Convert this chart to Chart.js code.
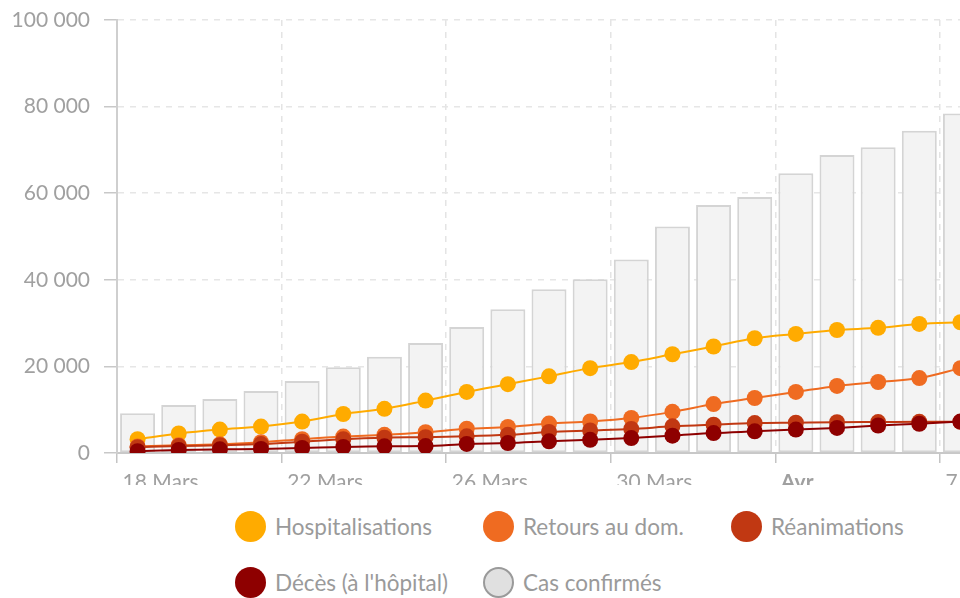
<!DOCTYPE html>
<html lang="fr">
<head>
<meta charset="utf-8">
<script src="https://cdn.jsdelivr.net/npm/chart.js@4"></script>
<style>
  html, body { margin: 0; padding: 0; background: #fff; overflow: hidden; width: 960px; height: 598px; }
  #wrap { position: absolute; left: 0; top: 0; width: 990px; height: 500px; }
  #legend { position: absolute; left: 0; top: 485px; width: 960px; height: 113px; background: #fff;
            font-family: Lato, sans-serif; font-size: 22.5px; color: #9a9a9a; }
  .item { position: absolute; display: flex; align-items: center; height: 32px; white-space: nowrap; }
  .dot { width: 31px; height: 31px; border-radius: 50%; margin-right: 9px; box-sizing: border-box; }
</style>
</head>
<body>
<div id="wrap"><canvas id="chart"></canvas></div>
<div id="legend"></div>
<script>
// ========== DATA ==========
const dates = ['18 Mars', '19 Mars', '20 Mars', '21 Mars', '22 Mars', '23 Mars', '24 Mars',
    '25 Mars', '26 Mars', '27 Mars', '28 Mars', '29 Mars', '30 Mars', '31 Mars',
    '1 Avr.', '2 Avr.', '3 Avr.', '4 Avr.', '5 Avr.', '6 Avr.', '7 Avr.'];
const tickLabels = ['18 Mars', '22 Mars', '26 Mars', '30 Mars', 'Avr.', '7'];
const tickEvery = 4;

const hospitalisations = [3200, 4500, 5400, 6100, 7250, 9000, 10200, 12100, 14100, 15900, 17700,
    19600, 21000, 22800, 24600, 26500, 27500, 28400, 28900, 29800, 30200];
const retours = [1500, 1800, 2000, 2500, 3200, 3800, 4200, 4800, 5600, 6000, 6800,
    7300, 8100, 9500, 11300, 12700, 14100, 15500, 16400, 17300, 19600];
const reanimations = [1350, 1600, 1800, 2050, 2600, 3200, 3550, 3650, 3850, 4200, 4850,
    5200, 5550, 6150, 6550, 6900, 7000, 7100, 7150, 7200, 7200];
const deces = [400, 700, 850, 950, 1150, 1400, 1550, 1600, 2100, 2300, 2700,
    3050, 3450, 4000, 4600, 5000, 5400, 5800, 6350, 6750, 7250];
const casConfirmes = [9200, 11100, 12500, 14300, 16600, 19800, 22200, 25400, 29100, 33200, 37800,
    40100, 44700, 52300, 57300, 59100, 64600, 68800, 70600, 74400, 78400];

const yTicks = { min: 0, max: 100000, step: 20000 };

// ========== LEGEND ==========
const legendItems = [
    { label: 'Hospitalisations', fill: '#ffab00', stroke: null },
    { label: 'Retours au dom.', fill: '#ef6b21', stroke: null },
    { label: 'Réanimations', fill: '#c13812', stroke: null },
    { label: "Décès (à l'hôpital)", fill: '#8e0000', stroke: null },
    { label: 'Cas confirmés', fill: '#e0e0e0', stroke: '#9a9a9a' }
];

const legend = document.getElementById('legend');
legendItems.forEach((item, i) => {
    const col = i % 3;
    const row = Math.floor(i / 3);
    const el = document.createElement('div');
    el.className = 'item';
    el.style.left = (235 + col * 248) + 'px';
    el.style.top = (25 + row * 56) + 'px';
    const dot = document.createElement('span');
    dot.className = 'dot';
    dot.style.background = item.fill;
    if (item.stroke) dot.style.border = '2px solid ' + item.stroke;
    const txt = document.createElement('span');
    txt.textContent = item.label;
    el.appendChild(dot);
    el.appendChild(txt);
    legend.appendChild(el);
});

// ========== CHART ==========
function formatThousands(v) {
    return String(v).replace(/\B(?=(\d{3})+(?!\d))/g, ' ');
}

function lineDataset(label, data, color, order) {
    return {
        type: 'line',
        label: label,
        data: data,
        borderColor: color,
        backgroundColor: color,
        borderWidth: 2,
        pointRadius: 8,
        pointBorderWidth: 0,
        pointBackgroundColor: color,
        cubicInterpolationMode: 'monotone',
        order: order
    };
}

const ctx = document.getElementById('chart').getContext('2d');
new Chart(ctx, {
    type: 'bar',
    data: {
        labels: dates,
        datasets: [
            lineDataset('Hospitalisations', hospitalisations, '#ffab00', 3),
            lineDataset('Retours au dom.', retours, '#ef6b21', 2),
            lineDataset('Réanimations', reanimations, '#c13812', 1),
            lineDataset("Décès (à l'hôpital)", deces, '#8e0000', 0),
            {
                type: 'bar',
                label: 'Cas confirmés',
                data: casConfirmes,
                backgroundColor: '#f3f3f3',
                borderColor: '#d4d4d4',
                borderWidth: 2,
                borderSkipped: false,
                barPercentage: 0.85,
                categoryPercentage: 1,
                order: 10
            }
        ]
    },
    options: {
        responsive: true,
        maintainAspectRatio: false,
        animation: false,
        layout: { padding: { top: 20, right: 9, left: 0, bottom: 0 } },
        plugins: {
            legend: { display: false },
            tooltip: { enabled: false }
        },
        scales: {
            x: {
                offset: true,
                grid: {
                    offset: true,
                    color: c => (c.index % tickEvery === 0 && c.index > 0) ? '#e4e4e4' : 'rgba(0,0,0,0)',
                    tickColor: c => (c.index % tickEvery === 0) ? '#c4c4c4' : 'rgba(0,0,0,0)',
                    lineWidth: 1.5,
                    tickWidth: 1.5,
                    tickLength: 10
                },
                border: { display: true, color: '#c8c8c8', width: 2, dash: [6, 6] },
                ticks: {
                    autoSkip: false,
                    maxRotation: 0,
                    minRotation: 0,
                    align: 'start',
                    labelOffset: -15,
                    padding: 7,
                    color: '#a0a0a0',
                    font: c => ({
                        family: 'Lato',
                        size: 21,
                        weight: (c.index === tickEvery * 4) ? 'bold' : 'normal'
                    }),
                    callback: (v, i) => (i % tickEvery === 0) ? (tickLabels[i / tickEvery] || '') : ''
                },
                afterFit: s => { s.height = 47; }
            },
            y: {
                min: yTicks.min,
                max: yTicks.max,
                grid: {
                    color: c => c.index === 0 ? 'rgba(0,0,0,0)' : '#e6e6e6',
                    tickColor: '#c8c8c8',
                    lineWidth: 1.5,
                    tickWidth: 1.5,
                    tickLength: 13
                },
                border: { display: true, color: '#cfcfcf', width: 2, dash: [6, 6] },
                ticks: {
                    stepSize: yTicks.step,
                    padding: 14,
                    color: '#a0a0a0',
                    font: { family: 'Lato', size: 21 },
                    callback: v => formatThousands(v)
                },
                afterFit: s => {
                    s.width = 117;
                    s.paddingTop = 0;
                    s.paddingBottom = 0;
                }
            }
        }
    }
});
</script>
</body>
</html>
